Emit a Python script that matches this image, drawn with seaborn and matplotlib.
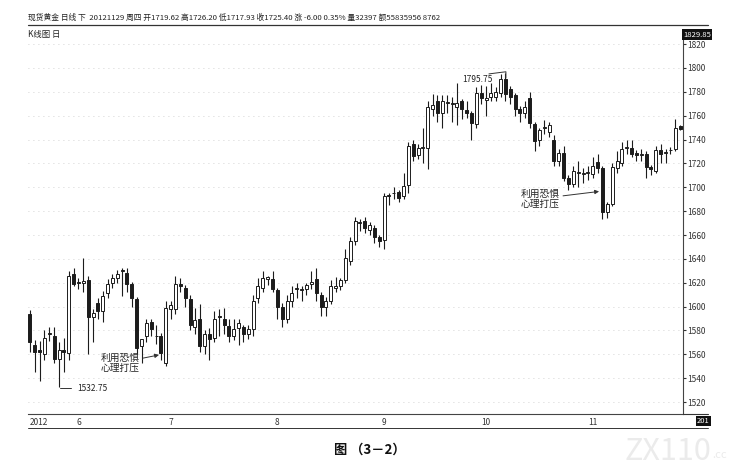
import matplotlib
matplotlib.use("Agg")
import matplotlib.pyplot as plt
from matplotlib.lines import Line2D
import numpy as np
import pandas as pd
import seaborn as sns

# daily spot gold candles (May - Nov 2012)
opens = [1594, 1568, 1564, 1560, 1577, 1575, 1556, 1564, 1561, 1627,
         1621, 1620, 1622, 1591, 1603, 1596, 1611, 1620, 1624, 1630,
         1628, 1619, 1606, 1567, 1575, 1587, 1575, 1575, 1553, 1598,
         1598, 1619, 1616, 1606, 1583, 1590, 1567, 1577, 1574, 1592,
         1590, 1584, 1575, 1582, 1583, 1577, 1581, 1607, 1616, 1623,
         1623, 1614, 1600, 1590, 1605, 1615, 1614, 1615, 1619, 1623,
         1610, 1600, 1605, 1616, 1617, 1622, 1638, 1655, 1670, 1672,
         1664, 1666, 1658, 1656, 1693, 1695, 1696, 1693, 1702, 1736,
         1727, 1733, 1733, 1766, 1772, 1762, 1771, 1770, 1767, 1772,
         1765, 1762, 1753, 1779, 1773, 1776, 1776, 1779, 1791, 1782,
         1777, 1766, 1762, 1775, 1753, 1740, 1750, 1746, 1740, 1722,
         1729, 1708, 1703, 1712, 1711, 1712, 1711, 1721, 1716, 1679,
         1686, 1716, 1720, 1733, 1733, 1729, 1727, 1728, 1717, 1714,
         1731, 1729, 1731, 1732, 1751]
highs = [1597, 1572, 1571, 1580, 1583, 1583, 1570, 1574, 1630, 1632,
         1624, 1641, 1626, 1598, 1607, 1613, 1623, 1627, 1631, 1632,
         1632, 1621, 1608, 1573, 1590, 1590, 1585, 1578, 1605, 1605,
         1626, 1624, 1618, 1610, 1599, 1602, 1580, 1582, 1596, 1598,
         1599, 1590, 1590, 1590, 1585, 1585, 1610, 1624, 1630, 1626,
         1630, 1616, 1603, 1610, 1617, 1620, 1617, 1620, 1630, 1632,
         1612, 1608, 1622, 1625, 1624, 1648, 1658, 1675, 1673, 1675,
         1671, 1668, 1660, 1695, 1695, 1700, 1698, 1712, 1738, 1740,
         1736, 1750, 1772, 1778, 1777, 1777, 1777, 1776, 1787, 1774,
         1772, 1764, 1784, 1786, 1785, 1787, 1784, 1795, 1795.75, 1785,
         1779, 1768, 1772, 1780, 1755, 1750, 1756, 1755, 1744, 1732,
         1735, 1710, 1718, 1722, 1716, 1718, 1725, 1728, 1718, 1688,
         1720, 1730, 1738, 1740, 1740, 1731, 1732, 1730, 1719, 1735,
         1736, 1732, 1734, 1757, 1752]
lows = [1562, 1545, 1538, 1555, 1571, 1553, 1532.75, 1545, 1555, 1617,
        1615, 1612, 1560, 1570, 1590, 1587, 1607, 1616, 1620, 1609,
        1612, 1600, 1560, 1553, 1570, 1575, 1569, 1555, 1550, 1590,
        1594, 1612, 1600, 1580, 1577, 1562, 1560, 1555, 1570, 1575,
        1577, 1570, 1572, 1568, 1570, 1573, 1575, 1603, 1612, 1618,
        1612, 1590, 1583, 1586, 1600, 1607, 1605, 1610, 1615, 1605,
        1592, 1592, 1602, 1612, 1614, 1620, 1635, 1652, 1663, 1662,
        1660, 1653, 1650, 1648, 1685, 1690, 1688, 1690, 1695, 1722,
        1724, 1720, 1715, 1760, 1755, 1750, 1762, 1755, 1752, 1757,
        1758, 1740, 1750, 1770, 1760, 1772, 1772, 1776, 1772, 1770,
        1760, 1755, 1758, 1750, 1730, 1735, 1745, 1742, 1718, 1718,
        1705, 1698, 1700, 1700, 1704, 1706, 1708, 1712, 1673, 1674,
        1684, 1712, 1718, 1728, 1725, 1722, 1722, 1708, 1710, 1712,
        1720, 1720, 1728, 1730, 1748]
closes = [1570, 1562, 1562, 1574, 1577.5, 1556, 1564, 1562, 1626, 1619,
          1620, 1621.5, 1591, 1595, 1596, 1609, 1619, 1624, 1627, 1630.5,
          1619, 1607, 1565, 1573, 1586, 1581, 1575.5, 1561, 1599, 1601,
          1619, 1617, 1607, 1585, 1589, 1567, 1577, 1573, 1590, 1591,
          1585, 1575, 1581, 1586, 1577, 1581, 1605, 1617, 1624, 1624.5,
          1615, 1600, 1590, 1605, 1611, 1615.5, 1614.5, 1618, 1621, 1611,
          1600, 1605, 1617, 1617, 1622, 1641, 1655, 1672, 1670.5, 1666,
          1668, 1658, 1655, 1693, 1693.5, 1695.5, 1691, 1701, 1735, 1726,
          1733, 1733.5, 1767, 1769, 1762, 1772, 1771.5, 1770.5, 1771, 1766,
          1762, 1754, 1779, 1775, 1775, 1779, 1780, 1791, 1778, 1776,
          1766, 1762, 1767, 1754, 1739, 1748, 1750.5, 1752, 1722, 1729,
          1708, 1703, 1714, 1712.5, 1711.5, 1712.5, 1718, 1716, 1679, 1686,
          1717, 1722, 1732, 1733.5, 1728, 1727, 1727.5, 1717, 1715, 1731,
          1728, 1729.5, 1731.5, 1750, 1749]

month_pos = [0, 10, 29, 51, 73, 94, 116]
month_labels = ["2012", "6", "7", "8", "9", "10", "11"]
price_ticks = list(range(1520, 1821, 20))

header = ("现货黄金 日线 下  20121129 周四 开1719.62 高1726.20 低1717.93 "
          "收1725.40 涨 -6.00 0.35% 量32397 额55835956 8762")

df = pd.DataFrame({"open": opens, "high": highs, "low": lows, "close": closes})
df["x"] = np.arange(len(df))
df["up"] = df["close"] >= df["open"]

sns.set_style("white")
plt.rcParams["font.family"] = ["Noto Sans CJK SC", "DejaVu Sans"]

W, H = 745, 469
fig = plt.figure(figsize=(W / 100, H / 100), dpi=100)
ax = fig.add_axes([28 / W, 1 - 414 / H, (683 - 28) / W, (414 - 30) / H])

ink = "#1c1c1c"
ax.vlines(df["x"], df["low"], df["high"], color=ink, lw=0.8, zorder=2)
body_lo = df[["open", "close"]].min(axis=1)
body_h = (df["close"] - df["open"]).abs().clip(lower=0.6)
ax.bar(df["x"], body_h, bottom=body_lo, width=0.62,
       color=np.where(df["up"], "white", ink), edgecolor=ink,
       linewidth=0.7, zorder=3)

ax.set_xlim(-0.4, 134.6)
ax.set_ylim(1510, 1831.8)
for p in price_ticks:
    ax.axhline(p, color="#c4c4c4", lw=0.6, ls=(0, (1, 5)), zorder=0)

sns.despine(ax=ax, left=True, top=True, right=False, bottom=False)
for s in ("right", "bottom"):
    ax.spines[s].set_color("#444444")
    ax.spines[s].set_linewidth(0.8)

ax.yaxis.tick_right()
ax.set_yticks(price_ticks)
ax.tick_params(axis="y", length=2, pad=1, labelsize=6, colors="#333333")
ax.set_xticks(month_pos, month_labels)
ax.tick_params(axis="x", length=0, pad=3, labelsize=6, colors="#333333")
ax.get_xticklabels()[0].set_ha("left")

# max value tag on the price axis
ax.text(1.0, 1828, "1829.85", transform=ax.get_yaxis_transform(),
        ha="left", va="center", fontsize=5.5, color="white",
        bbox=dict(boxstyle="square,pad=0.15", fc="#111111", ec="none"))

# annotations
ax.annotate("1532.75", xy=(6, 1533.5), xytext=(9.7, 1531.5),
            fontsize=6, color="#222222", va="center", ha="left",
            arrowprops=dict(arrowstyle="-", color="#333333", lw=0.7,
                            connectionstyle="angle,angleA=0,angleB=90,rad=0"))
ax.plot([94.6, 97.3, 98.1, 98.1], [1795, 1796.4, 1796.8, 1791.5],
        color="#333333", lw=0.7, zorder=4)
ax.text(89.2, 1790, "1795.75", fontsize=6, color="#222222", va="center", ha="left")

ax.annotate("利用恐惧\n心理打压", xy=(26.6, 1559.5), xytext=(22.6, 1553),
            fontsize=7, color="#222222", ha="right", va="center", linespacing=1.0,
            arrowprops=dict(arrowstyle="-|>", color="#333333", lw=0.7,
                            mutation_scale=6, shrinkA=0, shrinkB=0))
ax.annotate("利用恐惧\n心理打压", xy=(117.3, 1696.5), xytext=(109.2, 1690.5),
            fontsize=7, color="#222222", ha="right", va="center", linespacing=1.0,
            arrowprops=dict(arrowstyle="-|>", color="#333333", lw=0.7,
                            mutation_scale=6, shrinkA=0, shrinkB=0))


def hline(y, x0, x1, lw=0.8, color="#333333"):
    fig.add_artist(Line2D([x0 / W, x1 / W], [1 - y / H, 1 - y / H],
                          color=color, lw=lw))


# header and frame decorations
fig.text(28 / W, 1 - 18 / H, header, fontsize=5.6, color="#222222", va="center")
hline(25, 28, 708, lw=0.9)
fig.text(28 / W, 1 - 34 / H, "K线图 日", fontsize=6, color="#222222", va="center")
hline(414, 683, 708)
hline(428, 28, 708, lw=0.7)
fig.text(697 / W, 1 - 421 / H, "201", fontsize=5.5, color="white", va="center",
         bbox=dict(boxstyle="square,pad=0.15", fc="#111111", ec="none"))

fig.text(370 / W, 1 - 450 / H, "图 （3－2）", fontsize=9.5, fontweight="bold",
         ha="center", va="center", color="#111111")
fig.text(668 / W, 1 - 451 / H, "ZX110", fontsize=22, color="#ebebeb",
         ha="center", va="center")
fig.text(712 / W, 1 - 455 / H, ".cc", fontsize=8, color="#ebebeb",
         ha="left", va="center")

fig.savefig("out.png", dpi=100)
